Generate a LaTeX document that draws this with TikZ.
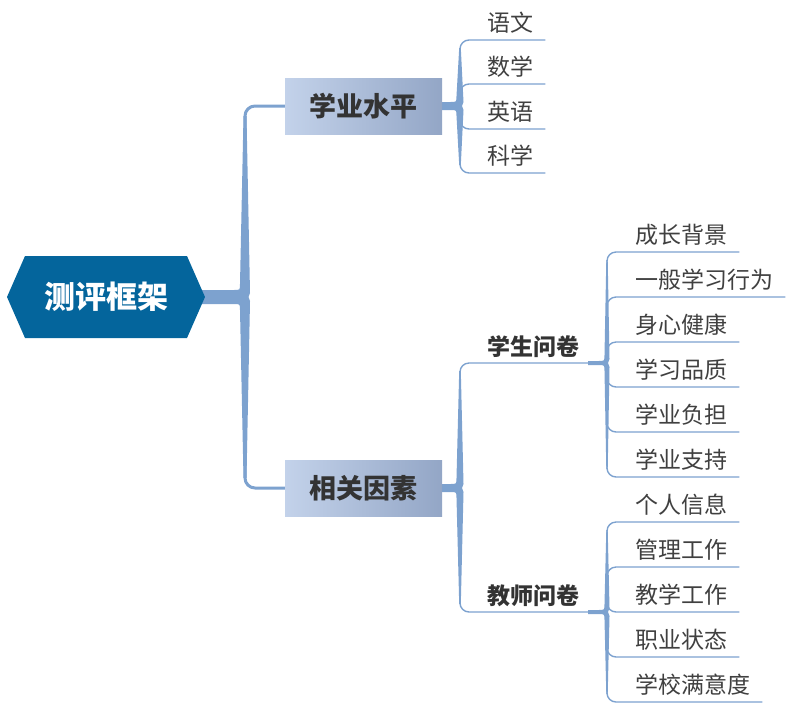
\documentclass[tikz,border=0pt]{standalone}
\usepackage{fontspec}
\setmainfont{Noto Sans CJK SC}
\usetikzlibrary{calc}
\definecolor{br}{HTML}{7DA2CF}
\definecolor{hexc}{HTML}{04659C}
\definecolor{txt}{HTML}{404040}
\definecolor{txtb}{HTML}{333333}
\definecolor{boxl}{HTML}{C3D2EA}
\definecolor{boxr}{HTML}{93A6C6}
% #1 stub start x, #2 centre y, #3 trunk x, #4 top y, #5 bottom y,
% #6 stub half width, #7 trunk half width, #8 end half width
\newcommand\taperbr[8]{%
 \fill[br] ({#1},{#2-#6}) -- ({#3-#7-6},{#2-#6}) .. controls ({#3-#7},{#2-#6}) .. ({#3-#7},{#2-#6-6})
  -- ({#3-#8},{#4}) -- ({#3+#8},{#4}) -- ({#3+#7},{#2-4}) -- ({#3+#7-1.5},{#2}) -- ({#3+#7},{#2+4})
  -- ({#3+#8},{#5}) -- ({#3-#8},{#5}) -- ({#3-#7},{#2+#6+6}) .. controls ({#3-#7},{#2+#6}) .. ({#3-#7-6},{#2+#6})
  -- ({#1},{#2+#6}) -- cycle;}
\begin{document}
\begin{tikzpicture}[x=1pt,y=-1pt,
  leaf/.style={anchor=base west, inner sep=0pt, text=txt, font=\fontsize{23}{28}\selectfont},
  sub/.style={anchor=base west, inner sep=0pt, text=txtb, font=\fontsize{23}{28}\selectfont\bfseries},
  mainbox/.style={minimum width=157pt, minimum height=56pt, inner sep=0pt, left color=boxl, right color=boxr, text=txtb, font=\fontsize{27}{32}\selectfont\bfseries},
  rootnode/.style={minimum width=198pt, minimum height=82pt, inner sep=0pt, text=white, font=\fontsize{31}{36}\selectfont\bfseries},
  thinln/.style={draw=br, line width=1.4pt, rounded corners=9pt},
  thickln/.style={draw=br, line width=3pt, rounded corners=10pt},
]
\useasboundingbox (0,0) rectangle (799,721);

% tapered trunks
\taperbr{202}{297}{245}{116}{478}{7}{5}{1.5}
\taperbr{442}{106}{460}{48}{165}{4}{3.5}{0.8}
\taperbr{442}{488}{460}{371}{604}{4}{3.5}{0.8}
\taperbr{588}{363}{607}{260}{469}{2}{2.5}{0.7}
\taperbr{588}{612}{607}{530}{694}{2}{2.5}{0.7}

% root
\node[rootnode, path picture={\fill[hexc] (path picture bounding box.west)
   -- ([xshift=18pt]path picture bounding box.north west)
   -- ([xshift=-18pt]path picture bounding box.north east)
   -- (path picture bounding box.east)
   -- ([xshift=-18pt]path picture bounding box.south east)
   -- ([xshift=18pt]path picture bounding box.south west) -- cycle;}]
   (root) at (106,297) {测评框架};

% main boxes
\node[mainbox] (b1) at (363.5,106) {学业水平};
\node[mainbox] (b2) at (363.5,488) {相关因素};

\coordinate (g0) at (245,297);
\coordinate (g1) at (460,106);
\coordinate (g2) at (460,488);
\coordinate (g3) at (607,363);
\coordinate (g4) at (607,612);

\draw[thickln] (root.east) -- (g0) |- (b1.west);
\draw[thickln] (root.east) -- (g0) |- (b2.west);

% 学业水平 leaves
\node[leaf] (a1) at (487,31.5) {语文};
\node[leaf] (a2) at (487,75.5) {数学};
\node[leaf] (a3) at (487,120.5) {英语};
\node[leaf] (a4) at (487,164.5) {科学};
\foreach \n in {a1,a2,a3,a4}
  \draw[thinln] (g1) |- ($(\n.base east)+(12,8.5)$);

% 相关因素 sub nodes
\node[sub] (s1) at (487,355) {学生问卷};
\node[sub] (s2) at (487,604) {教师问卷};
\draw[thinln] (g2) |- ($(s1.base west)+(113,8)$);
\draw[thinln] (g2) |- ($(s2.base west)+(113,8)$);

% 学生问卷 leaves
\node[leaf] (c1) at (635,243.5) {成长背景};
\node[leaf] (c2) at (635,288.5) {一般学习行为};
\node[leaf] (c3) at (635,333.5) {身心健康};
\node[leaf] (c4) at (635,378.5) {学习品质};
\node[leaf] (c5) at (635,423.5) {学业负担};
\node[leaf] (c6) at (635,468.5) {学业支持};
\foreach \n in {c1,c2,c3,c4,c5,c6}
  \draw[thinln] (g3) |- ($(\n.base east)+(12,8.5)$);

% 教师问卷 leaves
\node[leaf] (d1) at (635,513.5) {个人信息};
\node[leaf] (d2) at (635,558.5) {管理工作};
\node[leaf] (d3) at (635,603.5) {教学工作};
\node[leaf] (d4) at (635,648.5) {职业状态};
\node[leaf] (d5) at (635,693.5) {学校满意度};
\foreach \n in {d1,d2,d3,d4,d5}
  \draw[thinln] (g4) |- ($(\n.base east)+(12,8.5)$);
\end{tikzpicture}
\end{document}
